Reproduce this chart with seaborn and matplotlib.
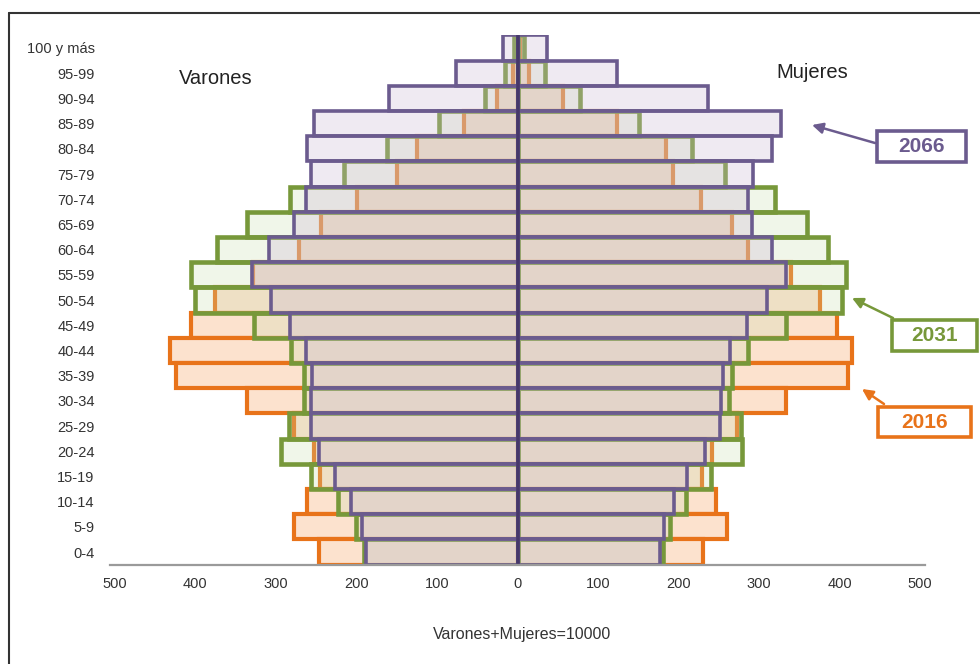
import numpy as np
import pandas as pd
import matplotlib
matplotlib.use("Agg")
import matplotlib.pyplot as plt
import seaborn as sns
from matplotlib.patches import Rectangle
from matplotlib.lines import Line2D

# ---- data (bottom age group first) ----
ages = ['0-4', '5-9', '10-14', '15-19', '20-24', '25-29', '30-34', '35-39',
        '40-44', '45-49', '50-54', '55-59', '60-64', '65-69', '70-74',
        '75-79', '80-84', '85-89', '90-94', '95-99', '100 y más']

varones_2016 = [246, 277, 261, 245, 253, 277, 336, 424, 432, 406, 375,
                328, 271, 244, 199, 150, 125, 67, 25, 5, 1]
varones_2031 = [191, 201, 223, 256, 294, 284, 265, 265, 281, 327, 401,
                405, 373, 336, 283, 215, 162, 97, 40, 15, 4]
varones_2066 = [188, 193, 207, 226, 247, 256, 256, 255, 263, 282, 306,
                330, 308, 277, 263, 257, 262, 253, 160, 76, 18]

mujeres_2016 = [230, 260, 247, 229, 242, 273, 334, 410, 415, 397, 375,
                339, 286, 266, 228, 193, 185, 124, 56, 14, 3]
mujeres_2031 = [181, 189, 209, 240, 279, 278, 263, 266, 286, 334, 403,
                408, 386, 360, 320, 258, 217, 151, 78, 34, 8]
mujeres_2066 = [177, 182, 194, 211, 233, 251, 253, 255, 264, 285, 310,
                334, 316, 291, 286, 293, 316, 327, 237, 124, 37]

years = ['2016', '2031', '2066']
xticks = [-500, -400, -300, -200, -100, 0, 100, 200, 300, 400, 500]
xticklabels = ['500', '400', '300', '200', '100', '0', '100', '200', '300', '400', '500']

# ---- style ----
sns.set_theme(style="white")
plt.rcParams['font.family'] = ['Liberation Sans', 'DejaVu Sans']

W, H = 980, 664
fig = plt.figure(figsize=(W / 100, H / 100), dpi=100)
ax = fig.add_axes([110 / W, (H - 564.6) / H, 815 / W, (564.6 - 35.4) / H])

styles = {
    '2016': dict(edge='#E8731A', face=(0.988, 0.886, 0.808, 1.0), lw=3.0),
    '2031': dict(edge='#77983A', face=(0.78, 0.87, 0.67, 0.25), lw=3.3),
    '2066': dict(edge='#6B5B8E', face=(0.80, 0.73, 0.83, 0.30), lw=2.6),
}
data = {
    '2016': (varones_2016, mujeres_2016),
    '2031': (varones_2031, mujeres_2031),
    '2066': (varones_2066, mujeres_2066),
}
order = ages[::-1]

for yr in years:
    v, m = data[yr]
    df = pd.DataFrame({'edad': ages, 'Varones': -np.array(v, float),
                       'Mujeres': np.array(m, float)})
    st = styles[yr]
    for col in ['Varones', 'Mujeres']:
        n0 = len(ax.patches)
        sns.barplot(data=df, x=col, y='edad', order=order, orient='h',
                    width=1.0, errorbar=None, color=st['edge'],
                    saturation=1, ax=ax)
        for p in ax.patches[n0:]:
            p.set_facecolor(st['face'])
            p.set_edgecolor(st['edge'])
            p.set_linewidth(st['lw'])

ax.axvline(0, color='#46386A', lw=2.6, zorder=6)

ax.set_xlim(-506, 506)
ax.set_ylim(len(ages) - 0.5, -0.5)
ax.set_xticks(xticks)
ax.set_xticklabels(xticklabels, fontsize=10.5, color='#333333')
ax.set_yticks(range(len(order)))
ax.set_yticklabels(order, fontsize=10.5, color='#333333')
ax.tick_params(axis='x', length=0, pad=9)
ax.tick_params(axis='y', length=0, pad=11)
ax.set_xlabel('')
ax.set_ylabel('')
for s in ['top', 'right', 'left']:
    ax.spines[s].set_visible(False)
ax.spines['bottom'].set_color('#9a9a9a')
ax.spines['bottom'].set_linewidth(1.6)
ax.spines['bottom'].set_zorder(10)
ax.set_facecolor('none')

# Titles
fig.text(216 / W, 1 - 78 / H, 'Varones', fontsize=14.5, color='#222222',
         ha='center', va='center')
fig.text(812 / W, 1 - 72 / H, 'Mujeres', fontsize=14.5, color='#222222',
         ha='center', va='center')
fig.text(522 / W, 1 - 635 / H, 'Varones+Mujeres=10000', fontsize=11.5,
         color='#333333', ha='center', va='center')

# Year boxes with arrows (figure pixel coordinates, y from top)
boxes = {
    '2066': ((877, 131, 966, 162), (875, 143), (812, 125)),
    '2031': ((892, 320, 977, 351), (893, 318), (852, 298)),
    '2016': ((878, 407, 971, 437), (884, 404), (862, 389)),
}
for yr, ((x0, y0, x1, y1), tail, head) in boxes.items():
    col = styles[yr]['edge']
    fig.patches.append(Rectangle((x0 / W, 1 - y1 / H), (x1 - x0) / W,
                                 (y1 - y0) / H, transform=fig.transFigure,
                                 fill=True, facecolor='white', edgecolor=col,
                                 lw=2.6, zorder=5))
    fig.text((x0 + x1) / 2 / W, 1 - (y0 + y1) / 2 / H, yr, fontsize=15,
             fontweight='bold', color=col, ha='center', va='center', zorder=6)
    ax.annotate('', xy=(head[0], H - head[1]), xycoords='figure pixels',
                xytext=(tail[0], H - tail[1]), textcoords='figure pixels',
                arrowprops=dict(arrowstyle='-|>', color=col, lw=1.8,
                                mutation_scale=16, shrinkA=0, shrinkB=0),
                annotation_clip=False)

# Frame around figure (left and top edges visible)
fig.add_artist(Line2D([9 / W, 9 / W], [0, 1 - 13 / H], transform=fig.transFigure,
                      color='#333333', lw=1.5))
fig.add_artist(Line2D([9 / W, 1], [1 - 13 / H, 1 - 13 / H],
                      transform=fig.transFigure, color='#333333', lw=1.5))

fig.savefig('out.png', dpi=100)
